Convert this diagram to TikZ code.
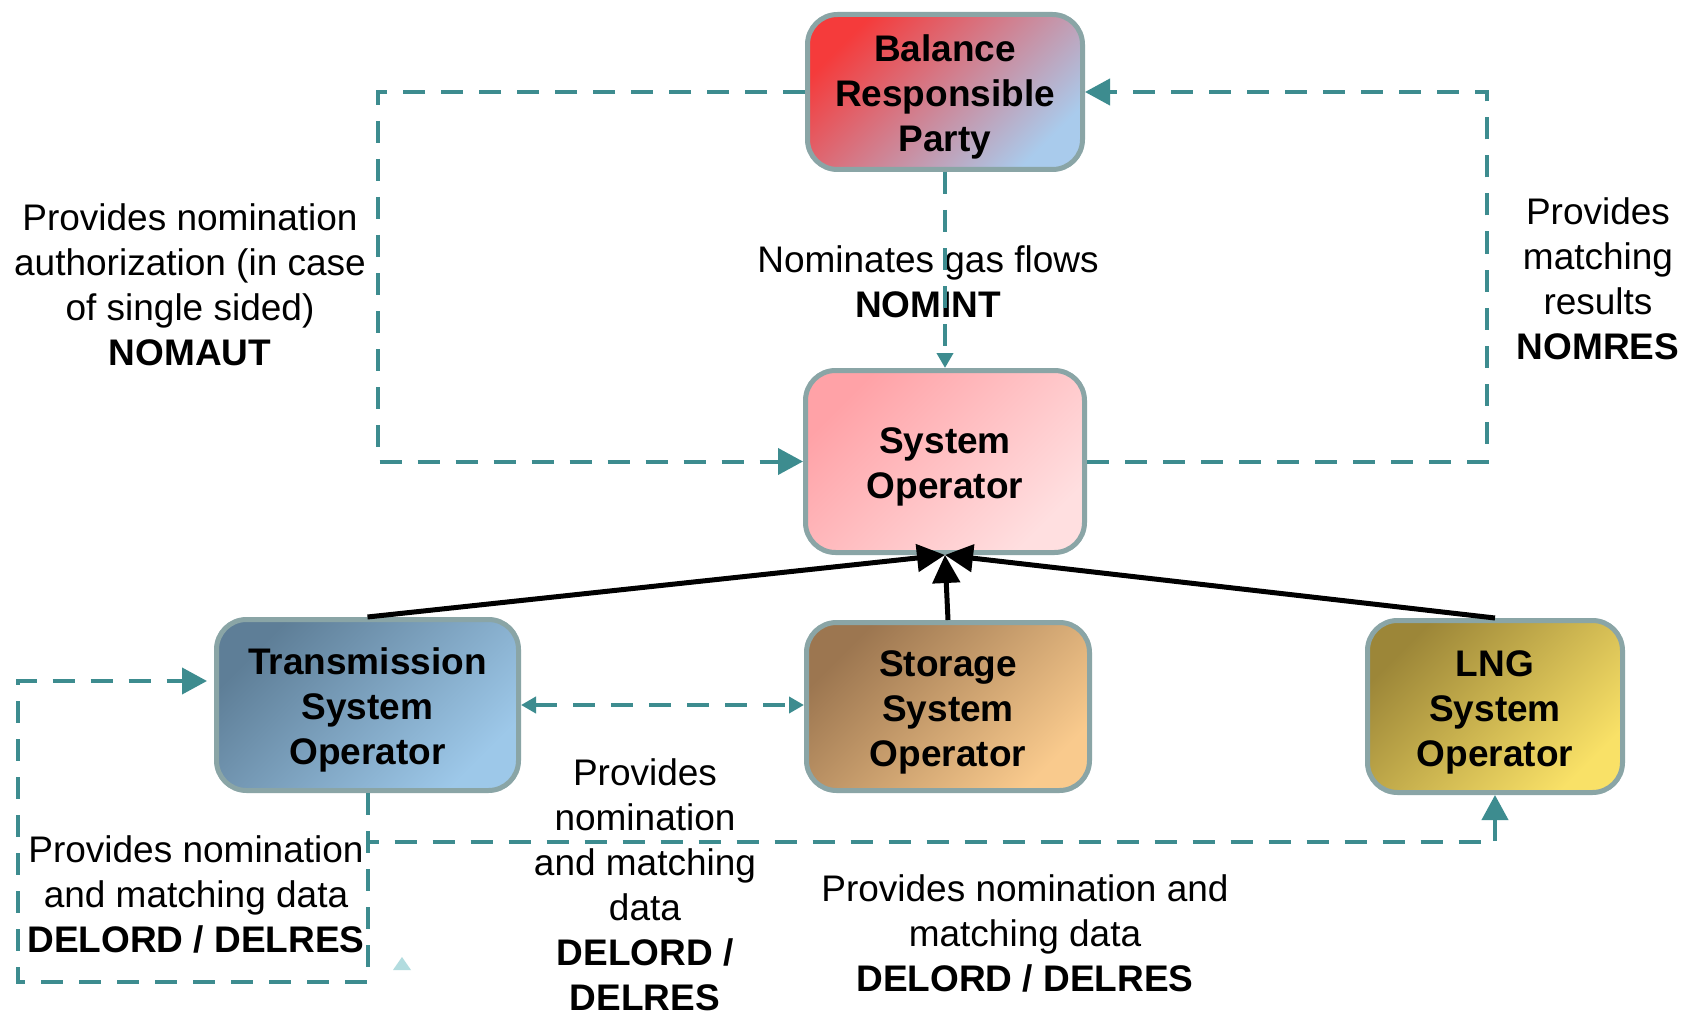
\documentclass[tikz,border=0pt]{standalone}
\usepackage{fontspec}
\setmainfont{Liberation Sans}
\usetikzlibrary{arrows.meta}
\definecolor{bordc}{HTML}{8AA5A6}
\definecolor{tealc}{HTML}{3D8C8F}
\definecolor{faintc}{HTML}{B2DCDF}
\definecolor{brpA}{HTML}{F53B3B}
\definecolor{brpB}{HTML}{CF8599}
\definecolor{brpC}{HTML}{A9CBEC}
\definecolor{soA}{HTML}{FFA2A7}
\definecolor{soB}{HTML}{FFC1C4}
\definecolor{soC}{HTML}{FFDFE0}
\definecolor{tsoA}{HTML}{5E7E97}
\definecolor{tsoB}{HTML}{7C9DB9}
\definecolor{tsoC}{HTML}{9DC8E9}
\definecolor{ssoA}{HTML}{9C7650}
\definecolor{ssoB}{HTML}{D6A673}
\definecolor{ssoC}{HTML}{F9CA8D}
\definecolor{lngA}{HTML}{9C8638}
\definecolor{lngB}{HTML}{D4B652}
\definecolor{lngC}{HTML}{F9E167}
\newcommand{\lblfont}{\fontsize{18.5pt}{22.5pt}\selectfont}
\newcommand{\tpstrut}{\rule{0pt}{18.5pt}}
\tikzset{
  box/.style={rounded corners=15pt, draw=bordc, line width=2.5pt, align=center,
    inner sep=0pt, font=\lblfont\bfseries},
  lbl/.style={align=center, inner sep=0pt, font=\lblfont},
  tealdash/.style={draw=tealc, line width=2pt, dash pattern=on 11pt off 8pt},
  bigtip/.style={-{Triangle[length=12.5pt,width=13pt]}},
  smalltip/.style={-{Triangle[length=7.5pt,width=8pt]}},
  blackarrow/.style={draw=black, line width=2.5pt, -{Triangle[length=14pt,width=13.5pt]}},
}
\begin{document}
\begin{tikzpicture}[x=0.5pt,y=-0.5pt]
\useasboundingbox[fill=white] (0,0) rectangle (1683,1011);

% boxes
\node[box, minimum width=137.5pt, minimum height=77.5pt,
  top color=brpA, middle color=brpB, bottom color=brpC, shading angle=45]
  (BRP) at (945,92) {\tpstrut Balance\\Responsible\\Party};
\node[box, minimum width=139.5pt, minimum height=91pt,
  top color=soA, middle color=soB, bottom color=soC, shading angle=45]
  (SO) at (945,461.5) {\tpstrut System\\Operator};
\node[box, minimum width=151pt, minimum height=85.5pt,
  top color=tsoA, middle color=tsoB, bottom color=tsoC, shading angle=45]
  (TSO) at (367.5,705) {\tpstrut Transmission\\System\\Operator};
\node[box, minimum width=141.5pt, minimum height=84pt,
  top color=ssoA, middle color=ssoB, bottom color=ssoC, shading angle=45]
  (SSO) at (948,706.5) {\tpstrut Storage\\System\\Operator};
\node[box, minimum width=127.5pt, minimum height=86pt,
  top color=lngA, middle color=lngB, bottom color=lngC, shading angle=45]
  (LNG) at (1495,706.5) {\tpstrut LNG\\System\\Operator};

% labels
\node[lbl] (lnomaut) at (190,285) {Provides nomination\\authorization (in case\\of single sided)\\\textbf{NOMAUT}};
\node[lbl] (lnomint) at (928,282) {Nominates gas flows\\\textbf{NOMINT}};
\node[lbl] (lnomres) at (1598,279) {Provides\\matching\\results\\\textbf{NOMRES}};
\node[lbl] (ldelmid) at (645,884.5) {Provides\\nomination\\and matching\\data\\\textbf{DELORD /}\\\textbf{DELRES}};
\node[lbl] (ldelleft) at (196,894) {Provides nomination\\and matching data\\\textbf{DELORD / DELRES}};
\node[lbl] (ldelright) at (1025,933.5) {Provides nomination and\\matching data\\\textbf{DELORD / DELRES}};

% coordinates
\coordinate (ltop) at (378,92);
\coordinate (lbot) at (378,461.5);
\coordinate (rtop) at (1487,92);
\coordinate (rbot) at (1487,461.5);
\coordinate (j) at (367.5,842);
\coordinate (jb) at (367.5,982);
\coordinate (lb) at (18,982);
\coordinate (lt) at (18,681);
\coordinate (tin) at (207,681);

% teal dashed connectors
\draw[tealdash, bigtip] (BRP.west) -- (ltop) -- (lbot) -- (SO.west);
\draw[tealdash, bigtip] (SO.east) -- (rbot) -- (rtop) -- (BRP.east);
\draw[tealdash, smalltip] (BRP.south) -- (SO.north);
\draw[tealdash, {Triangle[length=7.5pt,width=8pt]}-{Triangle[length=7.5pt,width=8pt]}]
  (TSO.east) -- (SSO.west |- TSO.east);
\draw[tealdash, bigtip] (TSO.south) -- (j) -| (LNG.south);
\draw[tealdash, bigtip] (TSO.south) -- (j) -- (jb) -- (lb) -- (lt) -- (tin);

% black arrows
\draw[blackarrow] (TSO.north) -- (SO.south);
\draw[blackarrow] (SSO.north) -- (SO.south);
\draw[blackarrow] (LNG.north) -- (SO.south);

% faint stray triangle
\fill[faintc] (393,970) -- (411,970) -- (402,957) -- cycle;
\end{tikzpicture}
\end{document}
